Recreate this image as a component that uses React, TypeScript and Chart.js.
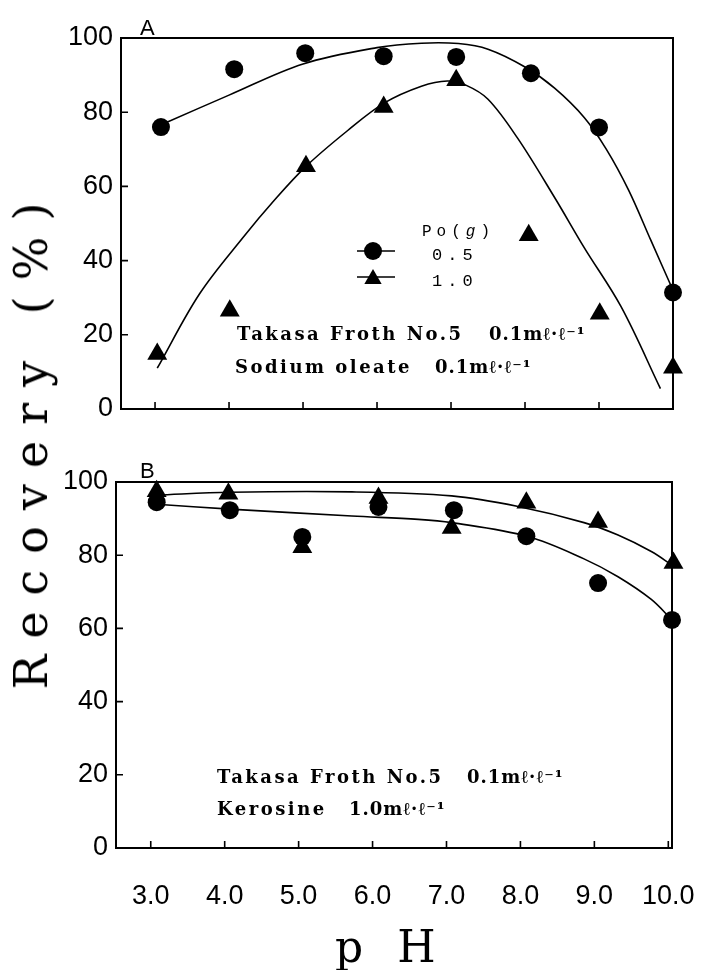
import React, { useEffect, useRef } from 'react';
import { Chart, registerables } from 'chart.js';
Chart.register(...registerables);

// ---------- data ----------
const PH_TICKS = [3, 4, 5, 6, 7, 8, 9, 10];
const RECOVERY_TICKS = [0, 20, 40, 60, 80, 100];

// Panel A (Takasa Froth + Sodium oleate)
const A_CIRCLE_PH = [3.08, 4.07, 5.03, 6.09, 7.07, 8.08, 9.0, 10.0];
const A_CIRCLE_REC = [76.0, 91.6, 95.9, 95.1, 94.9, 90.5, 75.9, 31.4];
const A_TRIANGLE_PH = [3.03, 4.01, 5.04, 6.09, 7.07, 8.05, 9.01, 10.0];
const A_TRIANGLE_REC = [14.8, 26.5, 65.4, 81.4, 88.6, 46.8, 25.7, 11.1];
const A_CIRCLE_FIT_PH = [3.16, 4.0, 5.0, 6.0, 6.6, 7.1, 7.5, 8.0, 8.4, 8.8, 9.1, 9.4, 9.7, 10.0];
const A_CIRCLE_FIT_REC = [77.3, 84.6, 93.0, 97.4, 98.6, 98.5, 97.0, 92.2, 86.5, 78.6, 70.0, 59.0, 45.5, 32.0];
const A_TRIANGLE_FIT_PH = [3.03, 3.6, 4.2, 4.6, 5.04, 5.6, 6.1, 6.6, 6.95, 7.2, 7.5, 7.9, 8.4, 8.8, 9.3, 9.83];
const A_TRIANGLE_FIT_REC = [11.0, 31.0, 46.5, 56.0, 65.4, 75.0, 82.5, 87.0, 88.4, 87.3, 83.5, 73.0, 57.0, 43.5, 27.5, 5.5];

// Panel B (Takasa Froth + Kerosine)
const B_CIRCLE_PH = [3.08, 4.07, 5.05, 6.08, 7.1, 8.08, 9.05, 10.05];
const B_CIRCLE_REC = [94.5, 92.3, 85.0, 93.2, 92.3, 85.2, 72.4, 62.3];
const B_TRIANGLE_PH = [3.08, 4.05, 5.05, 6.08, 7.07, 8.08, 9.05, 10.07];
const B_TRIANGLE_REC = [97.5, 96.8, 82.2, 95.6, 87.4, 94.3, 89.1, 77.9];
const B_CIRCLE_FIT_PH = [3.08, 4.07, 5.72, 6.62, 7.07, 8.1, 8.86, 9.32, 9.77, 10.05];
const B_CIRCLE_FIT_REC = [93.9, 92.6, 90.7, 89.8, 88.9, 85.1, 79.0, 74.1, 67.9, 62.3];
const B_TRIANGLE_FIT_PH = [3.08, 4.07, 5.72, 7.07, 7.97, 8.86, 9.32, 9.77, 10.05];
const B_TRIANGLE_FIT_REC = [96.4, 97.2, 97.3, 96.2, 93.3, 88.9, 85.5, 81.0, 77.3];

// ---------- texts ----------
const LEGEND_TITLE = ['Po(', 'g', ')'];
const LEGEND_LABELS = ['0.5', '1.0'];
const A_NOTES = [
  ['Takasa Froth No.5', '0.1mℓ·ℓ⁻¹'],
  ['Sodium oleate', '0.1mℓ·ℓ⁻¹'],
];
const B_NOTES = [
  ['Takasa Froth No.5', '0.1mℓ·ℓ⁻¹'],
  ['Kerosine', '1.0mℓ·ℓ⁻¹'],
];
const Y_TITLE = 'Recovery (%)';
const X_TITLE = 'p H';

const TICK_FONT = { family: '"Liberation Sans", Arial, sans-serif', size: 27 };
const NOTE_FONT = 'bold 18px "DejaVu Serif", serif';

const pts = (xs: number[], ys: number[]) => xs.map((x, i) => ({ x, y: ys[i] }));

function markerSet(xs: number[], ys: number[], style: string) {
  return {
    data: pts(xs, ys),
    showLine: false,
    pointStyle: style,
    pointRadius: style === 'circle' ? 9 : 11.5,
    pointBackgroundColor: '#000',
    pointBorderColor: '#000',
    pointBorderWidth: 0,
    clip: false,
  };
}
function curveSet(xs: number[], ys: number[]) {
  return {
    data: pts(xs, ys),
    showLine: true,
    pointRadius: 0,
    borderColor: '#000',
    borderWidth: 1.6,
    tension: 0.35,
    clip: false,
  };
}

function drawTriangle(ctx: CanvasRenderingContext2D, x: number, y: number, r: number) {
  ctx.beginPath();
  for (let i = 0; i < 3; i++) {
    const a = (i * 2 * Math.PI) / 3;
    const px = x + Math.sin(a) * r;
    const py = y - Math.cos(a) * r;
    if (i === 0) ctx.moveTo(px, py);
    else ctx.lineTo(px, py);
  }
  ctx.closePath();
  ctx.fill();
}

function drawNotes(ctx: CanvasRenderingContext2D, notes: string[][], pos: number[][]) {
  ctx.fillStyle = '#000';
  ctx.textAlign = 'left';
  ctx.textBaseline = 'alphabetic';
  notes.forEach((n, i) => {
    const [x1, x2, y] = pos[i];
    ctx.font = NOTE_FONT;
    (ctx as any).letterSpacing = '2.5px';
    ctx.fillText(n[0], x1, y);
    (ctx as any).letterSpacing = '1px';
    ctx.fillText(n[1], x2, y);
  });
  (ctx as any).letterSpacing = '0px';
}

function framePlugin(letter: string, letterPos: number[]) {
  return {
    id: 'frame' + letter,
    afterDraw(chart: any) {
      const { ctx, chartArea: a, scales } = chart;
      ctx.save();
      ctx.strokeStyle = '#000';
      ctx.lineWidth = 2;
      ctx.strokeRect(a.left, a.top, a.right - a.left, a.bottom - a.top);
      ctx.lineWidth = 1.6;
      ctx.beginPath();
      for (const v of PH_TICKS) {
        const x = scales.x.getPixelForValue(v);
        ctx.moveTo(x, a.bottom);
        ctx.lineTo(x, a.bottom - 7);
      }
      for (const v of RECOVERY_TICKS) {
        const y = scales.y.getPixelForValue(v);
        ctx.moveTo(a.left, y);
        ctx.lineTo(a.left + 7, y);
      }
      ctx.stroke();
      ctx.fillStyle = '#000';
      ctx.font = '22px "Liberation Sans", Arial, sans-serif';
      ctx.textAlign = 'left';
      ctx.textBaseline = 'alphabetic';
      ctx.fillText(letter, letterPos[0], letterPos[1]);
      ctx.restore();
    },
  };
}

const extrasA = {
  id: 'extrasA',
  afterDraw(chart: any) {
    const { ctx } = chart;
    ctx.save();
    drawNotes(ctx, A_NOTES, [
      [237, 489, 340],
      [235, 435, 373],
    ]);
    // legend
    ctx.fillStyle = '#000';
    ctx.font = '16px "Liberation Mono", monospace';
    (ctx as any).letterSpacing = '5px';
    let x = 422;
    ctx.fillText(LEGEND_TITLE[0], x, 236);
    x += ctx.measureText(LEGEND_TITLE[0]).width;
    ctx.font = 'italic 16px "Liberation Mono", monospace';
    ctx.fillText(LEGEND_TITLE[1], x, 236);
    x += ctx.measureText(LEGEND_TITLE[1]).width;
    ctx.font = '16px "Liberation Mono", monospace';
    ctx.fillText(LEGEND_TITLE[2], x, 236);
    ctx.strokeStyle = '#000';
    ctx.lineWidth = 1.5;
    ctx.beginPath();
    ctx.moveTo(357, 251);
    ctx.lineTo(395, 251);
    ctx.moveTo(357, 277);
    ctx.lineTo(395, 277);
    ctx.stroke();
    ctx.beginPath();
    ctx.arc(373, 251, 9, 0, Math.PI * 2);
    ctx.fill();
    drawTriangle(ctx, 373, 279, 10);
    ctx.font = '17px "Liberation Mono", monospace';
    (ctx as any).letterSpacing = '5px';
    ctx.fillText(LEGEND_LABELS[0], 432, 260);
    ctx.fillText(LEGEND_LABELS[1], 432, 286);
    (ctx as any).letterSpacing = '0px';
    ctx.restore();
  },
};

const extrasB = {
  id: 'extrasB',
  afterDraw(chart: any) {
    const { ctx } = chart;
    ctx.save();
    drawNotes(ctx, B_NOTES, [
      [217, 467, 343],
      [217, 349, 375],
    ]);
    ctx.fillStyle = '#000';
    ctx.font = '44px "DejaVu Serif", serif';
    (ctx as any).letterSpacing = '10px';
    ctx.textAlign = 'left';
    ctx.fillText(X_TITLE, 335, 522);
    (ctx as any).letterSpacing = '0px';
    ctx.restore();
  },
};

function makeOptions(p: {
  xMin: number; xMax: number; yWidth: number; xHeight: number;
  top: number; right: number; showX: boolean;
}) {
  return {
    animation: false,
    responsive: false,
    maintainAspectRatio: false,
    events: [],
    layout: { padding: { top: p.top, right: p.right, left: 0, bottom: 0 } },
    plugins: { legend: { display: false }, tooltip: { enabled: false } },
    scales: {
      x: {
        type: 'linear',
        min: p.xMin,
        max: p.xMax,
        afterBuildTicks: (s: any) => {
          s.ticks = PH_TICKS.map((v) => ({ value: v }));
        },
        afterFit: (s: any) => {
          s.height = p.xHeight;
          s.paddingLeft = 0;
          s.paddingRight = 0;
        },
        grid: { display: false, drawTicks: false },
        border: { display: false },
        ticks: {
          display: p.showX,
          color: '#000',
          font: TICK_FONT,
          padding: 32,
          maxRotation: 0,
          autoSkip: false,
          callback: (v: any) => Number(v).toFixed(1),
        },
      },
      y: {
        type: 'linear',
        min: 0,
        max: 100,
        afterBuildTicks: (s: any) => {
          s.ticks = RECOVERY_TICKS.map((v) => ({ value: v }));
        },
        afterFit: (s: any) => {
          s.width = p.yWidth;
          s.paddingTop = 0;
          s.paddingBottom = 0;
        },
        grid: { display: false, drawTicks: false },
        border: { display: false },
        ticks: { color: '#000', font: TICK_FONT, padding: 8, callback: (v: any) => String(v) },
      },
    },
  };
}

export default function App() {
  const refA = useRef<HTMLCanvasElement>(null);
  const refB = useRef<HTMLCanvasElement>(null);

  useEffect(() => {
    const chartA = new Chart(refA.current as HTMLCanvasElement, {
      type: 'scatter',
      data: {
        datasets: [
          curveSet(A_CIRCLE_FIT_PH, A_CIRCLE_FIT_REC),
          curveSet(A_TRIANGLE_FIT_PH, A_TRIANGLE_FIT_REC),
          markerSet(A_CIRCLE_PH, A_CIRCLE_REC, 'circle'),
          markerSet(A_TRIANGLE_PH, A_TRIANGLE_REC, 'triangle'),
        ] as any,
      },
      options: makeOptions({ xMin: 2.54, xMax: 10, yWidth: 121, xHeight: 31, top: 38, right: 31, showX: false }) as any,
      plugins: [framePlugin('A', [140, 35]), extrasA],
    });
    const chartB = new Chart(refB.current as HTMLCanvasElement, {
      type: 'scatter',
      data: {
        datasets: [
          curveSet(B_CIRCLE_FIT_PH, B_CIRCLE_FIT_REC),
          curveSet(B_TRIANGLE_FIT_PH, B_TRIANGLE_FIT_REC),
          markerSet(B_TRIANGLE_PH, B_TRIANGLE_REC, 'triangle'),
          markerSet(B_CIRCLE_PH, B_CIRCLE_REC, 'circle'),
        ] as any,
      },
      options: makeOptions({ xMin: 2.53, xMax: 10.05, yWidth: 116, xHeight: 122, top: 42, right: 32, showX: true }) as any,
      plugins: [framePlugin('B', [140, 38]), extrasB],
    });
    return () => {
      chartA.destroy();
      chartB.destroy();
    };
  }, []);

  return (
    <div style={{ position: 'absolute', left: 0, top: 0, width: 704, height: 970, background: '#fff', overflow: 'hidden' }}>
      <canvas ref={refA} width={704} height={440} style={{ position: 'absolute', left: 0, top: 0, width: 704, height: 440 }} />
      <canvas ref={refB} width={704} height={530} style={{ position: 'absolute', left: 0, top: 440, width: 704, height: 530 }} />
      <div
        style={{
          position: 'absolute',
          left: 31,
          top: 438,
          transform: 'translate(-50%, -50%) rotate(-90deg)',
          whiteSpace: 'nowrap',
          fontFamily: '"DejaVu Serif", serif',
          fontSize: 46,
          letterSpacing: '16px',
          lineHeight: 1,
          color: '#000',
        }}
      >
        {Y_TITLE}
      </div>
    </div>
  );
}
